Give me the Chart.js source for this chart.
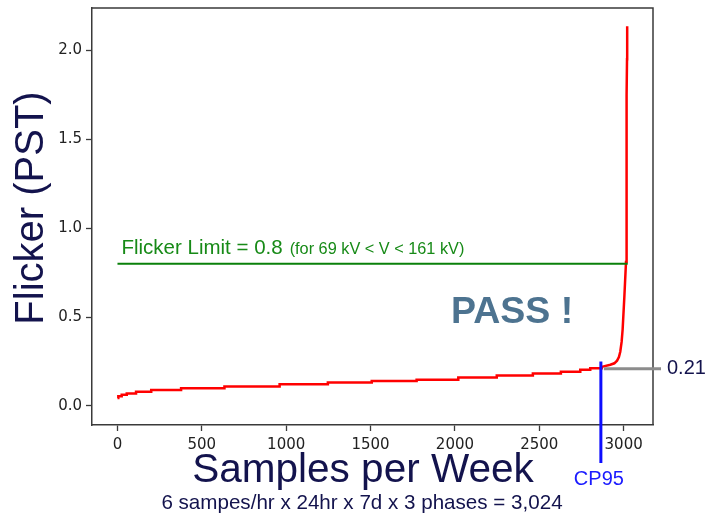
<!DOCTYPE html>
<html>
<head>
<meta charset="utf-8">
<script src="https://cdn.jsdelivr.net/npm/chart.js@4"></script>
<style>
  body { margin: 0; background: #fff; }
  #wrap { width: 705px; height: 513px; position: relative; }
</style>
</head>
<body>
<div id="wrap"><canvas id="chart"></canvas></div>
<script>
// sorted PST samples, flat stepped part
const stepSamples = [0, 5, 25, 55, 110, 200, 377, 634, 961, 1247, 1507, 1773, 2020, 2248, 2462, 2628, 2743, 2802, 2870]
const stepValues = [0.045, 0.055, 0.063, 0.07, 0.08, 0.09, 0.10, 0.11, 0.122, 0.132, 0.14, 0.148, 0.16, 0.172, 0.183, 0.193, 0.203, 0.212, 0.22]
// steep tail
const tailSamples = [2870, 2921, 2945, 2961, 2972, 2980, 2988, 2994, 2999, 3004, 3009, 3014, 3016, 3017, 3018, 3019, 3020, 3021]
const tailValues = [0.22, 0.232, 0.24, 0.255, 0.275, 0.305, 0.36, 0.43, 0.52, 0.61, 0.71, 0.81, 1.0, 1.25, 1.5, 1.75, 1.95, 2.135]

const limitSamples = [0, 3024]
const limitValue = 0.8
const cp95Sample = 2865
const cp95Value = 0.21
const cp95Top = 0.25

const xTicks = [0, 500, 1000, 1500, 2000, 2500, 3000]
const xTickLabels = ["0", "500", "1000", "1500", "2000", "2500", "3000"]
const yTicks = [0, 0.5, 1.0, 1.5, 2.0]
const yTickLabels = ["0.0", "0.5", "1.0", "1.5", "2.0"]

const sans = "'Liberation Sans', Arial, sans-serif"
const navy = "#13134d"

const overlay = {
  id: "overlay",
  afterDatasetsDraw(chart) {
    const { ctx, chartArea: a, scales: { x, y } } = chart
    ctx.save()
    // top and right spines
    ctx.strokeStyle = "#3a3a3a"
    ctx.lineWidth = 1.5
    ctx.beginPath()
    ctx.moveTo(a.left, a.top)
    ctx.lineTo(a.right, a.top)
    ctx.lineTo(a.right, a.bottom)
    ctx.stroke()

    const cx = x.getPixelForValue(cp95Sample)
    const gy = y.getPixelForValue(cp95Value)
    // grey marker line for CP95 value
    ctx.strokeStyle = "#8c8c8c"
    ctx.lineWidth = 3
    ctx.beginPath()
    ctx.moveTo(cx + 3, gy)
    ctx.lineTo(a.right + 8, gy)
    ctx.stroke()
    // blue CP95 line
    ctx.strokeStyle = "#0d0dff"
    ctx.lineWidth = 3
    ctx.beginPath()
    ctx.moveTo(cx, y.getPixelForValue(cp95Top))
    ctx.lineTo(cx, a.bottom + 38)
    ctx.stroke()
    ctx.restore()
  },
  afterDraw(chart) {
    const { ctx, chartArea: a, scales: { x, y } } = chart
    ctx.save()
    // y title
    ctx.fillStyle = navy
    ctx.font = "40px " + sans
    ctx.textAlign = "center"
    ctx.textBaseline = "middle"
    ctx.translate(32, 208)
    ctx.rotate(-Math.PI / 2)
    ctx.fillText("Flicker (PST)", 0, 0)
    ctx.restore()

    ctx.save()
    ctx.fillStyle = navy
    ctx.textAlign = "center"
    ctx.textBaseline = "alphabetic"
    ctx.font = "40.5px " + sans
    ctx.fillText("Samples per Week", 363, 482)
    ctx.font = "20.6px " + sans
    ctx.fillText("6 sampes/hr x 24hr x 7d x 3 phases = 3,024", 362, 509)

    // CP95 label
    const cx = x.getPixelForValue(cp95Sample)
    ctx.fillStyle = "#1a1aff"
    ctx.font = "20px " + sans
    ctx.textBaseline = "middle"
    ctx.fillText("CP95", cx - 2, 479)

    // value label
    ctx.fillStyle = navy
    ctx.font = "20px " + sans
    ctx.textAlign = "left"
    ctx.fillText(cp95Value.toFixed(2), a.right + 14, y.getPixelForValue(cp95Value))

    // PASS
    ctx.fillStyle = "#4d7390"
    ctx.font = "bold 37.5px " + sans
    ctx.textBaseline = "alphabetic"
    ctx.fillText("PASS !", 451, 323)

    // limit label
    const lx = x.getPixelForValue(limitSamples[0]) + 4
    const ly = y.getPixelForValue(limitValue) - 10
    ctx.fillStyle = "#178a17"
    ctx.font = "20.5px " + sans
    const main = "Flicker Limit = " + limitValue
    ctx.fillText(main, lx, ly)
    const w = ctx.measureText(main).width
    ctx.font = "16.3px " + sans
    ctx.fillText("(for 69 kV < V < 161 kV)", lx + w + 7, ly)
    ctx.restore()
  }
}

const curveStep = stepSamples.map((s, i) => ({ x: s, y: stepValues[i] }))
const curveTail = tailSamples.map((s, i) => ({ x: s, y: tailValues[i] }))
const limitLine = limitSamples.map(s => ({ x: s, y: limitValue }))

const tickFont = { family: "'DejaVu Sans', sans-serif", size: 15 }

new Chart(document.getElementById("chart").getContext("2d"), {
  type: "scatter",
  data: {
    datasets: [
      {
        data: limitLine,
        showLine: true,
        borderColor: "#0a800a",
        borderWidth: 2,
        pointRadius: 0,
      },
      {
        data: curveStep,
        showLine: true,
        stepped: true,
        borderColor: "#ff0000",
        borderWidth: 2.5,
        pointRadius: 0,
      },
      {
        data: curveTail,
        showLine: true,
        borderColor: "#ff0000",
        borderWidth: 2.5,
        pointRadius: 0,
      },
    ],
  },
  options: {
    responsive: true,
    maintainAspectRatio: false,
    animation: false,
    layout: { padding: { left: 0, right: 52, top: 8, bottom: 0 } },
    plugins: { legend: { display: false }, tooltip: { enabled: false } },
    scales: {
      x: {
        type: "linear",
        min: -151,
        max: 3174,
        afterBuildTicks(s) { s.ticks = xTicks.map(v => ({ value: v })) },
        afterFit(s) { s.height = 88; s.paddingLeft = 0; s.paddingRight = 0 },
        ticks: {
          color: "#222",
          font: tickFont,
          padding: 5,
          maxRotation: 0,
          autoSkip: false,
          callback: (v) => xTickLabels[xTicks.indexOf(v)],
        },
        grid: { drawOnChartArea: false, drawTicks: true, tickLength: 6, tickColor: "#3a3a3a", tickWidth: 1.3 },
        border: { color: "#3a3a3a", width: 1.5 },
      },
      y: {
        type: "linear",
        min: -0.107,
        max: 2.238,
        afterBuildTicks(s) { s.ticks = yTicks.map(v => ({ value: v })) },
        afterFit(s) { s.width = 92; s.paddingTop = 0; s.paddingBottom = 0 },
        ticks: {
          color: "#222",
          font: tickFont,
          padding: 4,
          autoSkip: false,
          callback: (v) => yTickLabels[yTicks.indexOf(v)],
        },
        grid: { drawOnChartArea: false, drawTicks: true, tickLength: 6, tickColor: "#3a3a3a", tickWidth: 1.3 },
        border: { color: "#3a3a3a", width: 1.5 },
      },
    },
  },
  plugins: [overlay],
})
</script>
</body>
</html>
